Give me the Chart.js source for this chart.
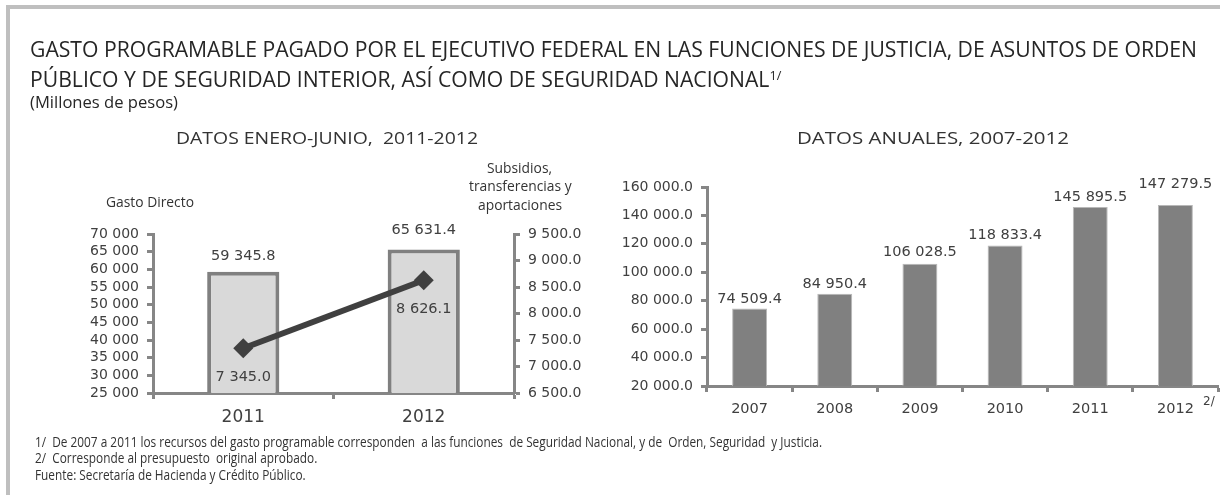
<!DOCTYPE html>
<html lang="es"><head><meta charset="utf-8">
<script src="https://cdn.jsdelivr.net/npm/chart.js@4.4.1/dist/chart.umd.min.js"></script>
<style>
html,body{margin:0;padding:0;background:#fff}
body{width:1220px;height:495px;position:relative;overflow:hidden;color:#333}
#bt{position:absolute;left:6px;top:5px;width:1214px;height:4px;background:#bfbfbf}
#bl{position:absolute;left:6px;top:5px;width:4px;height:490px;background:#bfbfbf}
.t{position:absolute;white-space:nowrap;transform-origin:0 50%}
.t sup{font-size:0.6em;vertical-align:0.55em;line-height:0}
canvas{position:absolute}
</style></head><body>
<div id="bt"></div><div id="bl"></div>
<canvas id="cL" width="610" height="495" style="left:0;top:0;width:610px;height:495px"></canvas>
<canvas id="cR" width="610" height="495" style="left:610px;top:0;width:610px;height:495px"></canvas>
<script>
// ---- data ----
const periodsJanJun = ['2011', '2012'];
const gastoDirecto = [59345.8, 65631.4];
const subsidiosTransf = [7345.0, 8626.1];
const years = ['2007', '2008', '2009', '2010', '2011', '2012'];
const gastoAnual = [74509.4, 84950.4, 106028.5, 118833.4, 145895.5, 147279.5];

const C_AXIS = '#868686', C_TXT = '#404040';
const NUMFONT = '"DejaVu Sans", Verdana, sans-serif';
const fmt = (v, d) => { const s = v.toFixed(d); const p = s.split('.'); return p[0].replace(/\B(?=(\d{3})+(?!\d))/g, ' ') + (p[1] ? '.' + p[1] : ''); };
const fix = (size) => (scale) => { if (scale.isHorizontal()) scale.height = size; else scale.width = size; };

const labelPlugin = {
  id: 'vlabels',
  afterDatasetsDraw(chart, args, opts) {
    const ctx = chart.ctx;
    (opts.items || []).forEach(it => {
      const meta = chart.getDatasetMeta(it.ds);
      const vals = chart.data.datasets[it.ds].data;
      meta.data.forEach((el, i) => {
        ctx.save();
        ctx.font = it.font;
        ctx.fillStyle = C_TXT;
        ctx.textAlign = 'center';
        ctx.textBaseline = 'middle';
        const dy = Array.isArray(it.dy) ? it.dy[i] : it.dy;
        ctx.fillText(fmt(vals[i], 1), el.x, el.y + dy);
        ctx.restore();
      });
    });
  }
};

const axisCommon = (tickLen) => ({
  grid: { display: true, drawOnChartArea: false, drawTicks: true, tickLength: tickLen, tickWidth: 3, tickColor: C_AXIS, color: C_AXIS },
  border: { display: true, color: C_AXIS, width: 3 }
});

// ---- left chart ----
new Chart(document.getElementById('cL'), {
  data: {
    labels: periodsJanJun,
    datasets: [
      { type: 'line', data: subsidiosTransf, yAxisID: 'y1', order: 0,
        borderColor: '#404040', borderWidth: 6, pointStyle: 'rectRot', pointRadius: 10,
        pointBackgroundColor: '#404040', pointBorderColor: '#404040', pointBorderWidth: 0, tension: 0 },
      { type: 'bar', data: gastoDirecto, yAxisID: 'y', order: 1,
        backgroundColor: '#d9d9d9', borderColor: '#808080', borderWidth: 4, borderSkipped: 'start',
        categoryPercentage: 0.4, barPercentage: 1 }
    ]
  },
  options: {
    responsive: false, animation: false, devicePixelRatio: 1,
    layout: { padding: { left: 0, right: 0, top: 234, bottom: 62 } },
    plugins: { legend: { display: false }, tooltip: { enabled: false },
      vlabels: { items: [
        { ds: 1, dy: [-15, -19], font: '14.5px ' + NUMFONT },
        { ds: 0, dy: 29, font: '14.5px ' + NUMFONT }
      ] } },
    scales: {
      x: Object.assign(axisCommon(6), { afterFit: fix(40), offset: true,
        ticks: { color: C_TXT, font: { family: NUMFONT, size: 17 }, padding: 8 } }),
      y: Object.assign(axisCommon(6), { position: 'left', min: 25000, max: 70000, afterFit: fix(153),
        ticks: { autoSkip: false, stepSize: 5000, color: C_TXT, font: { family: NUMFONT, size: 14 }, padding: 8, callback: v => fmt(v, 0) } }),
      y1: Object.assign(axisCommon(6), { position: 'right', min: 6500, max: 9500, afterFit: fix(96),
        ticks: { autoSkip: false, stepSize: 500, color: C_TXT, font: { family: NUMFONT, size: 14 }, padding: 8, callback: v => fmt(v, 1) } })
    }
  },
  plugins: [labelPlugin]
});

// ---- right chart ----
new Chart(document.getElementById('cR'), {
  type: 'bar',
  data: {
    labels: years,
    datasets: [
      { data: gastoAnual, backgroundColor: '#808080', borderColor: '#b8b8b8', borderWidth: 1, borderSkipped: 'start',
        categoryPercentage: 0.41, barPercentage: 1 }
    ]
  },
  options: {
    responsive: false, animation: false, devicePixelRatio: 1,
    layout: { padding: { left: 0, right: 2, top: 187, bottom: 69 } },
    plugins: { legend: { display: false }, tooltip: { enabled: false },
      vlabels: { items: [ { ds: 0, dy: [-9, -9, -11, -10, -10, -21], font: '14.5px ' + NUMFONT } ] } },
    scales: {
      x: Object.assign(axisCommon(6), { afterFit: fix(40), offset: true,
        ticks: { color: C_TXT, font: { family: NUMFONT, size: 14.5 }, padding: 9 } }),
      y: Object.assign(axisCommon(6), { position: 'left', min: 20000, max: 160000, afterFit: fix(97),
        ticks: { autoSkip: false, stepSize: 20000, color: C_TXT, font: { family: NUMFONT, size: 14 }, padding: 8, callback: v => fmt(v, 1) } })
    }
  },
  plugins: [labelPlugin]
});

// ---- texts ----
const SANS = '"Open Sans", "Noto Sans", sans-serif';
const NARROW = '"Liberation Sans Narrow", "Open Sans", sans-serif';
const texts = [
  { id: 'title1', html: 'GASTO PROGRAMABLE PAGADO POR EL EJECUTIVO FEDERAL EN LAS FUNCIONES DE JUSTICIA, DE ASUNTOS DE ORDEN', x: 30, cy: 49, size: 21, font: SANS, w: 1167, color: '#262626' },
  { html: 'PÚBLICO Y DE SEGURIDAD INTERIOR, ASÍ COMO DE SEGURIDAD NACIONAL<sup>1/</sup>', x: 30, cy: 79, size: 21, font: SANS, ref: 'title1', color: '#262626' },
  { html: '(Millones de pesos)', x: 30, cy: 102, size: 16, font: SANS, w: 148, color: '#262626' },
  { html: 'DATOS ENERO-JUNIO,&nbsp; 2011-2012', x: 327, cy: 137, size: 17, font: SANS, w: 302, align: 'center' },
  { html: 'DATOS ANUALES, 2007-2012', x: 933, cy: 137, size: 17, font: SANS, w: 272, align: 'center' },
  { id: 'gd', html: 'Gasto Directo', x: 150, cy: 202, size: 14, font: SANS, w: 88, align: 'center' },
  { html: 'Subsidios,', x: 520, cy: 168, size: 14, font: SANS, ref: 'gd', align: 'center' },
  { html: 'transferencias y', x: 520, cy: 186, size: 14, font: SANS, ref: 'gd', align: 'center' },
  { html: 'aportaciones', x: 520, cy: 205, size: 14, font: SANS, ref: 'gd', align: 'center' },
  { html: '2/', x: 1203, cy: 401, size: 12, font: NUMFONT, color: C_TXT },
  { id: 'fn1', html: '1/&nbsp; De 2007 a 2011 los recursos del gasto programable corresponden&nbsp; a las funciones&nbsp; de Seguridad Nacional, y de&nbsp; Orden, Seguridad&nbsp; y Justicia.', x: 35, cy: 442, size: 14, font: NARROW, w: 787 },
  { html: '2/&nbsp; Corresponde al presupuesto&nbsp; original aprobado.', x: 35, cy: 458, size: 14, font: NARROW, ref: 'fn1' },
  { html: 'Fuente: Secretaría de Hacienda y Crédito Público.', x: 35, cy: 475, size: 14, font: NARROW, ref: 'fn1' }
];
const scales = {};
texts.forEach(s => {
  const d = document.createElement('div');
  d.className = 't';
  d.innerHTML = s.html;
  d.style.fontFamily = s.font;
  d.style.fontSize = s.size + 'px';
  d.style.lineHeight = s.size + 'px';
  d.style.color = s.color || '#333';
  document.body.appendChild(d);
  const w0 = d.getBoundingClientRect().width;
  let k = 1;
  if (s.w) k = s.w / w0; else if (s.ref) k = scales[s.ref];
  if (s.id) scales[s.id] = k;
  const wf = w0 * k;
  const left = s.align === 'center' ? s.x - wf / 2 : s.x;
  d.style.left = left + 'px';
  d.style.top = (s.cy - s.size / 2) + 'px';
  d.style.transform = 'scaleX(' + k + ')';
});
</script>
</body></html>
